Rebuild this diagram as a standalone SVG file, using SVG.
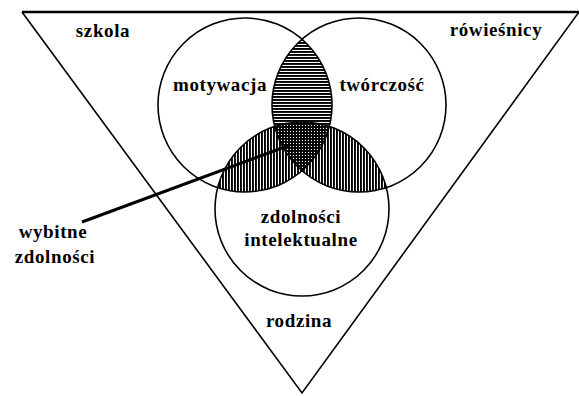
<svg xmlns="http://www.w3.org/2000/svg" width="579" height="396" viewBox="0 0 579 396">
<style>
.ln{fill:none;stroke:#000;stroke-width:1.6}
.t{font-family:"Liberation Serif","Times New Roman",serif;font-weight:bold;font-size:19px;letter-spacing:0.6px;fill:#000;text-anchor:middle}
</style>
<defs>
<pattern id="hor" width="6" height="3" patternUnits="userSpaceOnUse"><rect width="6" height="1.9" fill="#000"/></pattern>
<pattern id="ver" width="3" height="6" patternUnits="userSpaceOnUse"><rect width="1.9" height="6" fill="#000"/></pattern>
<clipPath id="cL"><circle cx="245" cy="105" r="87"/></clipPath>
<clipPath id="cR"><circle cx="359" cy="105" r="87"/></clipPath>
<clipPath id="cB"><circle cx="302" cy="209" r="87"/></clipPath>
<clipPath id="cLR"><circle cx="245" cy="105" r="87"/><circle cx="359" cy="105" r="87"/></clipPath>
</defs>
<rect width="579" height="396" fill="#fff"/>
<g id="triangle">
<path class="ln" d="M22 12 L302 393 L579 12"/>
<line x1="22" y1="12" x2="579" y2="12" stroke="#000" stroke-width="2.4"/>
</g>
<g id="hatching">
<g clip-path="url(#cL)"><rect x="150" y="10" width="300" height="200" fill="url(#hor)" clip-path="url(#cR)"/></g>
<g clip-path="url(#cB)"><rect x="150" y="110" width="300" height="200" fill="url(#ver)" clip-path="url(#cLR)"/></g>
</g>
<g id="motywacja">
<circle class="ln" cx="245" cy="105" r="87"/>
<text class="t" x="220" y="91">motywacja</text>
</g>
<g id="tworczosc">
<circle class="ln" cx="359" cy="105" r="87"/>
<text class="t" x="382" y="91">twórczość</text>
</g>
<g id="zdolnosci-intelektualne">
<circle class="ln" cx="302" cy="209" r="87"/>
<text class="t" x="301" y="223">zdolności</text>
<text class="t" x="301" y="246">intelektualne</text>
</g>
<g id="szkola"><text class="t" x="103" y="37">szkola</text></g>
<g id="rowiesnicy"><text class="t" x="496" y="36">rówieśnicy</text></g>
<g id="rodzina"><text class="t" x="299" y="327">rodzina</text></g>
<g id="wybitne-zdolnosci">
<text class="t" x="53" y="238">wybitne</text>
<text class="t" x="55" y="263">zdolności</text>
</g>
<g id="connectors">
<line x1="82" y1="222" x2="290" y2="145" stroke="#000" stroke-width="3"/>
</g>
</svg>
